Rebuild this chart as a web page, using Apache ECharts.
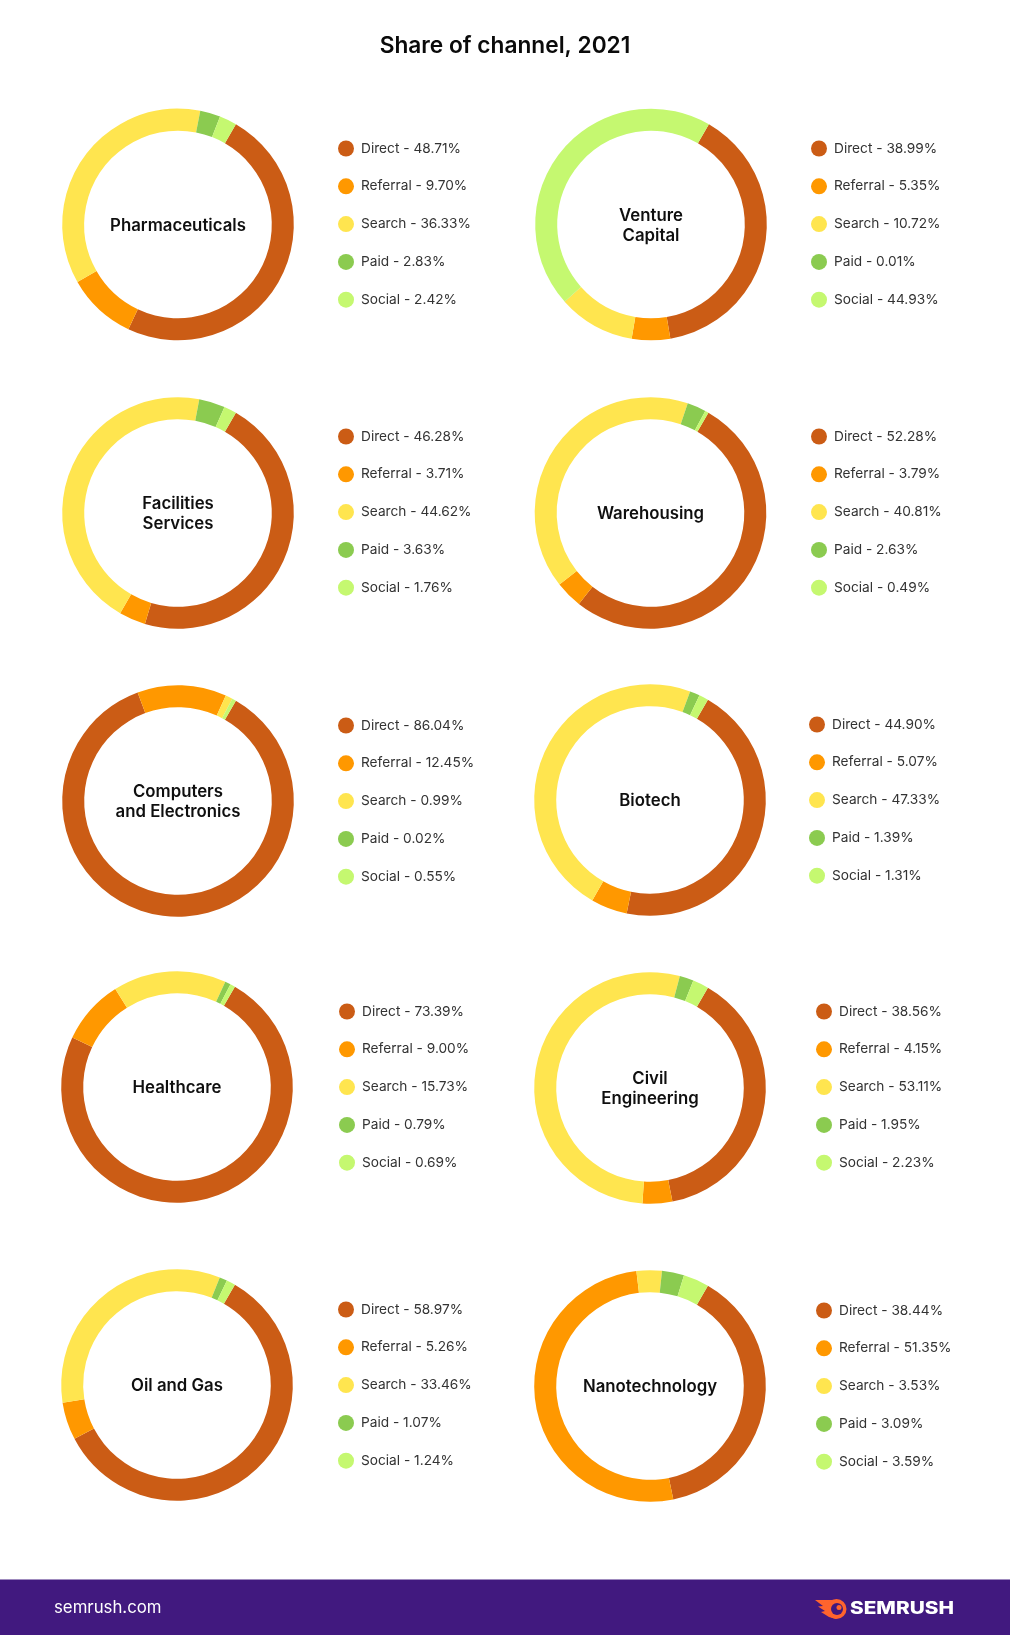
<!DOCTYPE html>
<html>
<head>
<meta charset="utf-8">
<title>Share of channel, 2021</title>
<script src="https://cdn.jsdelivr.net/npm/echarts@6/dist/echarts.min.js"></script>
<style>
  html, body { margin: 0; padding: 0; background: #fff; }
  #chart { width: 1010px; height: 1635px; }
</style>
</head>
<body>
<div id="chart"></div>
<script>
const channels = ['Direct', 'Referral', 'Search', 'Paid', 'Social'];
const industries = [
  'Pharmaceuticals', 'Venture\nCapital',
  'Facilities\nServices', 'Warehousing',
  'Computers\nand Electronics', 'Biotech',
  'Healthcare', 'Civil\nEngineering',
  'Oil and Gas', 'Nanotechnology'
];

const pharmaceuticals = [48.71, 9.70, 36.33, 2.83, 2.42];
const ventureCapital = [38.99, 5.35, 10.72, 0.01, 44.93];
const facilitiesServices = [46.28, 3.71, 44.62, 3.63, 1.76];
const warehousing = [52.28, 3.79, 40.81, 2.63, 0.49];
const computersElectronics = [86.04, 12.45, 0.99, 0.02, 0.55];
const biotech = [44.90, 5.07, 47.33, 1.39, 1.31];
const healthcare = [73.39, 9.00, 15.73, 0.79, 0.69];
const civilEngineering = [38.56, 4.15, 53.11, 1.95, 2.23];
const oilAndGas = [58.97, 5.26, 33.46, 1.07, 1.24];
const nanotechnology = [38.44, 51.35, 3.53, 3.09, 3.59];

const shares = [
  pharmaceuticals, ventureCapital,
  facilitiesServices, warehousing,
  computersElectronics, biotech,
  healthcare, civilEngineering,
  oilAndGas, nanotechnology
];

const channelColors = ['#CB5C15', '#FF9800', '#FFE54F', '#8BCB50', '#C5F870'];

// ring centre and first legend marker, one entry per panel
const panels = [
  { cx: 178, cy: 224.5, lx: 346, ly: 148.5 },
  { cx: 651, cy: 224.5, lx: 819, ly: 148.5 },
  { cx: 178, cy: 513, lx: 346, ly: 436.5 },
  { cx: 650.5, cy: 513, lx: 819, ly: 436.5 },
  { cx: 178, cy: 801, lx: 346, ly: 725.5 },
  { cx: 650, cy: 800, lx: 817, ly: 724.5 },
  { cx: 177, cy: 1087, lx: 347, ly: 1011.5 },
  { cx: 650, cy: 1088, lx: 824, ly: 1011.5 },
  { cx: 177, cy: 1385, lx: 346, ly: 1309.5 },
  { cx: 650, cy: 1386, lx: 824, ly: 1310.5 }
];

const FONT = 'Inter';
const OUTER_R = 115.8;
const INNER_R = 93.8;
const LEGEND_STEP = 37.8;
const MARKER = 16;

const series = shares.map((values, i) => ({
  type: 'pie',
  center: [panels[i].cx, panels[i].cy],
  radius: [INNER_R, OUTER_R],
  startAngle: 60,
  clockwise: true,
  silent: true,
  avoidLabelOverlap: false,
  label: { show: false },
  labelLine: { show: false },
  emphasis: { disabled: true },
  data: values.map((v, k) => ({
    name: channels[k],
    value: v,
    itemStyle: { color: channelColors[k] }
  }))
}));

const legends = shares.map((values, i) => ({
  orient: 'vertical',
  left: panels[i].lx - MARKER / 2,
  top: panels[i].ly - MARKER / 2,
  padding: 0,
  itemWidth: MARKER,
  itemHeight: MARKER,
  itemGap: LEGEND_STEP - MARKER,
  icon: 'circle',
  selectedMode: false,
  data: channels,
  textStyle: {
    fontFamily: FONT,
    fontSize: 13.7,
    color: '#333333',
    padding: [0, 0, 0, 2]
  },
  formatter: name => name + ' - ' + values[channels.indexOf(name)].toFixed(2) + '%'
}));

const titles = [{
  text: 'Share of channel, 2021',
  left: 505,
  top: 46,
  padding: 0,
  textAlign: 'center',
  textVerticalAlign: 'middle',
  textStyle: { fontFamily: FONT, fontSize: 22.7, fontWeight: 600, color: '#0a0a0a' }
}].concat(industries.map((name, i) => ({
  text: name,
  left: panels[i].cx,
  top: panels[i].cy + 1,
  padding: 0,
  textAlign: 'center',
  textVerticalAlign: 'middle',
  textStyle: { fontFamily: FONT, fontSize: 16.8, fontWeight: 600, lineHeight: 20, color: '#0f0f0f' }
})));

const chart = echarts.init(document.getElementById('chart'), null, { renderer: 'canvas' });
chart.setOption({
  backgroundColor: '#ffffff',
  animation: false,
  color: channelColors,
  tooltip: { show: false },
  title: titles,
  legend: legends,
  series: series,
  graphic: [
    // footer band
    { type: 'rect', z: -1, shape: { x: 0, y: 1579.5, width: 1010, height: 55.5 }, style: { fill: '#41197F' } },
    { type: 'text', x: 54, y: 1608, style: { text: 'semrush.com', fontFamily: FONT, fontSize: 16.8, fill: '#ffffff', textVerticalAlign: 'middle' } },
    // logo: flame and wordmark
    { type: 'polygon', shape: { points: [[836, 1600], [815, 1600], [823, 1606], [818, 1606.5], [825, 1611], [821, 1612], [829, 1617], [836, 1619]] }, style: { fill: '#FF642D' } },
    { type: 'circle', shape: { cx: 836.5, cy: 1609, r: 10 }, style: { fill: '#FF642D' } },
    { type: 'circle', shape: { cx: 837, cy: 1609, r: 6 }, style: { fill: '#41197F' } },
    { type: 'circle', shape: { cx: 839, cy: 1607.5, r: 2.5 }, style: { fill: '#FF642D' } },
    { type: 'text', x: 850, y: 1609, scaleX: 1.22, style: { text: 'SEMRUSH', fontFamily: FONT, fontSize: 17, fontWeight: 800, fill: '#ffffff', textVerticalAlign: 'middle' } }
  ]
});
</script>
</body>
</html>
